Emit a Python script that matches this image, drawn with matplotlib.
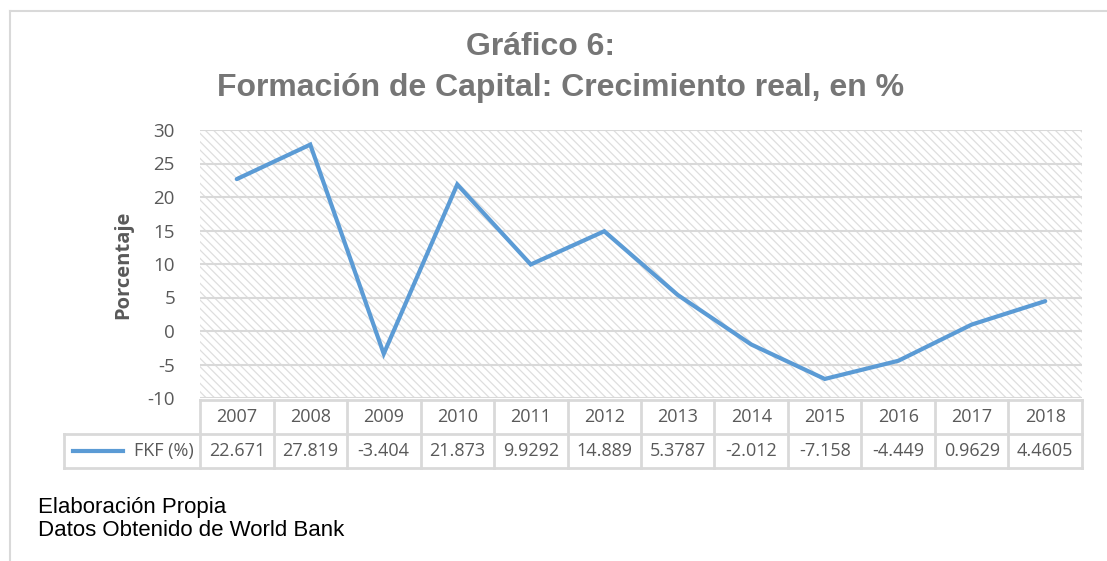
import matplotlib
matplotlib.use("Agg")
import matplotlib.pyplot as plt
from matplotlib.patches import Rectangle
from matplotlib.lines import Line2D

years = ["2007", "2008", "2009", "2010", "2011", "2012", "2013", "2014", "2015", "2016", "2017", "2018"]
values = [22.671, 27.819, -3.404, 21.873, 9.9292, 14.889, 5.3787, -2.012, -7.158, -4.449, 0.9629, 4.4605]
value_labels = ["22.671", "27.819", "-3.404", "21.873", "9.9292", "14.889", "5.3787", "-2.012", "-7.158", "-4.449", "0.9629", "4.4605"]
series_name = "FKF (%)"
yticks = [-10, -5, 0, 5, 10, 15, 20, 25, 30]

W, H = 1107, 561
DPI = 100
plt.rcParams['hatch.linewidth'] = 0.9
fig = plt.figure(figsize=(W / DPI, H / DPI), dpi=DPI)

GRID = "#d9d9d9"
HATCH = "#dedede"
TXT = "#595959"
LINE = "#5B9BD5"
tickfont = "Open Sans"

def fx(px):
    return px / W

def fy(py):
    return 1 - py / H

# outer frame
fig.add_artist(Line2D([fx(10), 1.0], [fy(11), fy(11)], color=GRID, lw=1.5))
fig.add_artist(Line2D([fx(10), fx(10)], [fy(11), 0.0], color=GRID, lw=1.5))

# plot area
left, right, top, bottom = 200, 1082, 130, 398
ax = fig.add_axes([fx(left), fy(bottom), fx(right - left), (bottom - top) / H])
n = len(years)
ax.set_xlim(-0.5, n - 0.5)
ax.set_ylim(-10, 30)
ax.add_patch(Rectangle((0, 0), 1, 1, transform=ax.transAxes, facecolor="white",
                       edgecolor=HATCH, hatch="\\\\\\\\", lw=0, zorder=0))
for y in yticks:
    ax.axhline(y, color=GRID, lw=1.5, zorder=1)
ax.plot(range(n), values, color=LINE, lw=3, solid_capstyle="round", solid_joinstyle="miter", zorder=3)
ax.set_yticks(yticks)
ax.set_yticklabels([str(t) for t in yticks], fontfamily=tickfont, fontsize=13.5, color=TXT)
ax.tick_params(axis="y", length=0, pad=18)
ax.set_xticks([])
for s in ax.spines.values():
    s.set_visible(False)

# y label
fig.text(fx(123), fy(265), "Porcentaje", rotation=90, ha="center", va="center",
         fontfamily=tickfont, fontweight="bold", fontsize=14.5, color=TXT)

# title
fig.text(fx(541), fy(47), "Gráfico 6:", ha="center", va="center",
         fontfamily="Liberation Sans", fontweight="bold", fontsize=23, color="#767676")
fig.text(fx(561), fy(88), "Formación de Capital: Crecimiento real, en %", ha="center", va="center",
         fontfamily="Liberation Sans", fontweight="bold", fontsize=23, color="#767676")

# data table
colw = (right - left) / n
tleft = 64
ttop, tmid, tbot = 400, 434, 468
tax = fig.add_axes([fx(tleft), fy(tbot), fx(right - tleft), (tbot - ttop) / H])
xmin = -0.5 - (left - tleft) / colw
tax.set_xlim(xmin, n - 0.5)
tax.set_ylim(0, 2)
tax.axis("off")
lw = 2
tax.plot([-0.5, n - 0.5], [2, 2], color=GRID, lw=lw, clip_on=False)
tax.plot([xmin, n - 0.5], [1, 1], color=GRID, lw=lw, clip_on=False)
tax.plot([xmin, n - 0.5], [0, 0], color=GRID, lw=lw, clip_on=False)
tax.plot([xmin, xmin], [0, 1], color=GRID, lw=lw, clip_on=False)
for i in range(n + 1):
    tax.plot([i - 0.5, i - 0.5], [0, 2], color=GRID, lw=lw, clip_on=False)
for i in range(n):
    tax.text(i, 1.5, years[i], ha="center", va="center", fontfamily=tickfont, fontsize=13, color=TXT)
    tax.text(i, 0.5, value_labels[i], ha="center", va="center", fontfamily=tickfont, fontsize=13, color=TXT)
kx0 = xmin + (73 - tleft) / colw
kx1 = xmin + (123 - tleft) / colw
tax.plot([kx0, kx1], [0.5, 0.5], color=LINE, lw=3, clip_on=False)
tax.text(-0.5 - 6 / colw, 0.5, series_name, ha="right", va="center", fontfamily=tickfont, fontsize=13, color=TXT)

# footer
fig.text(fx(38), fy(507), "Elaboración Propia", ha="left", va="center",
         fontfamily="Liberation Sans", fontsize=16, color="black")
fig.text(fx(38), fy(530), "Datos Obtenido de World Bank", ha="left", va="center",
         fontfamily="Liberation Sans", fontsize=16, color="black")

fig.savefig("out.png", dpi=DPI)
